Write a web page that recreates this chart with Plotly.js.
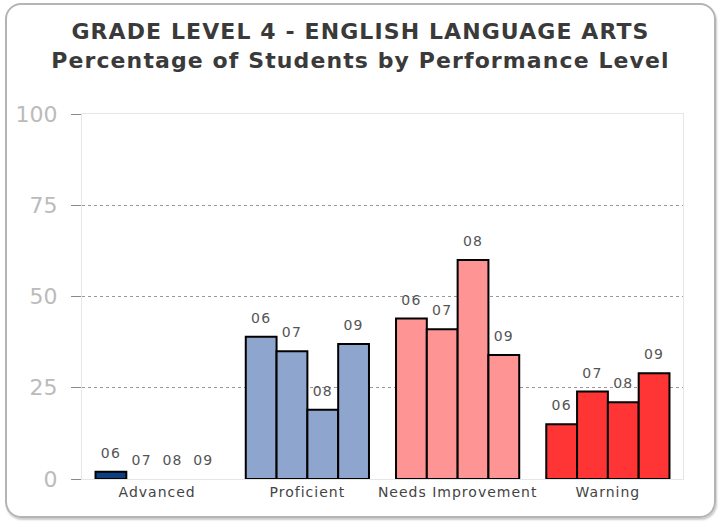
<!DOCTYPE html>
<html>
<head>
<meta charset="utf-8">
<script src="https://cdn.plot.ly/plotly-3.0.1.min.js"></script>
<style>
html,body{margin:0;padding:0;background:#fff;}
#wrap{position:relative;width:721px;height:523px;overflow:hidden;}
#frame{position:absolute;left:5px;top:3px;width:707px;height:511px;border:2px solid #b4b4b4;border-radius:16px;box-shadow:1px 2px 2px #ccc;}
#chart{position:absolute;left:0;top:0;width:721px;height:523px;}
#chart .gtitle{letter-spacing:1.1px;}
#chart .xtick text{letter-spacing:1px;}
#chart .textpoint text{letter-spacing:1.2px;}
</style>
</head>
<body>
<div id="wrap"><div id="frame"></div><div id="chart"></div></div>
<script>
const categories = ["Advanced", "Proficient", "Needs Improvement", "Warning"];
const years = ["06", "07", "08", "09"];
const values06 = [2, 39, 44, 15];
const values07 = [0, 35, 41, 24];
const values08 = [0, 19, 60, 21];
const values09 = [0, 37, 34, 29];
const categoryColors = ["#0d3f80", "#8ea6cd", "#fe9494", "#ff3434"];
const yTicks = [0, 25, 50, 75, 100];

const FONT = "DejaVu Sans, Verdana, sans-serif";
const series = [values06, values07, values08, values09];

const barTraces = series.map((vals, i) => ({
  type: "bar",
  name: years[i],
  x: categories,
  y: vals,
  marker: {
    color: categoryColors,
    line: {color: "#000", width: vals.map(v => v > 0 ? 2 : 0)}
  },
  hoverinfo: "x+y"
}));

const labelTraces = series.map((vals, i) => ({
  type: "scatter",
  mode: "markers+text",
  name: years[i] + " label",
  x: categories,
  y: vals,
  text: vals.map(() => years[i]),
  textposition: "top center",
  cliponaxis: false,
  marker: {size: 15, color: "rgba(0,0,0,0)"},
  textfont: {family: FONT, size: 14, color: "#555"},
  hoverinfo: "skip"
}));

const layout = {
  width: 721, height: 523,
  paper_bgcolor: "rgba(0,0,0,0)",
  plot_bgcolor: "#fff",
  margin: {l: 82, r: 38, t: 114, b: 44},
  showlegend: false,
  barmode: "group",
  bargap: 0.18,
  bargroupgap: 0,
  scattermode: "group",
  scattergap: 0.18,
  title: {
    text: "<b>GRADE LEVEL 4 - ENGLISH LANGUAGE ARTS<br>Percentage of Students by Performance Level</b>",
    x: 0.5, xanchor: "center", y: 0.925, yanchor: "top",
    font: {family: FONT, size: 22, color: "#3a3a3a"}
  },
  xaxis: {
    type: "category",
    showline: true, linecolor: "#e6e6e6", linewidth: 1, mirror: true,
    showgrid: false, ticks: "",
    tickfont: {family: FONT, size: 14, color: "#444"},
    fixedrange: true
  },
  yaxis: {
    range: [0, 100],
    tickvals: yTicks,
    ticktext: yTicks.map(String),
    showline: true, linecolor: "#e6e6e6", linewidth: 1, mirror: true,
    ticks: "outside", ticklen: 10, tickcolor: "#8a8a8a", tickwidth: 1,
    ticklabelstandoff: 9,
    showgrid: true, gridcolor: "#999", griddash: "dot", gridwidth: 1,
    zeroline: false,
    tickfont: {family: FONT, size: 22, color: "#bbbbbb"},
    fixedrange: true
  }
};

Plotly.newPlot("chart", barTraces.concat(labelTraces), layout, {displayModeBar: false, staticPlot: true});
</script>
</body>
</html>
